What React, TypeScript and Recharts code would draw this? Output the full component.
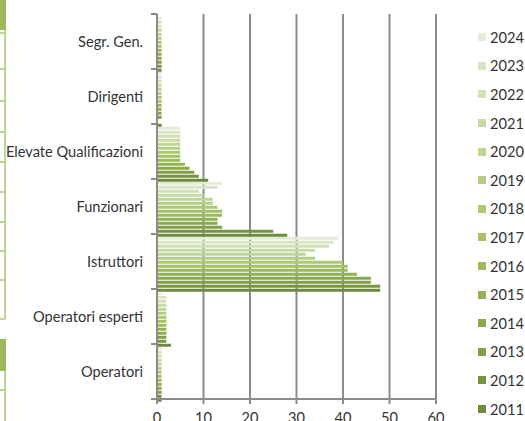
import { BarChart, Bar, XAxis, YAxis, CartesianGrid } from "recharts";

const categories = [
  "Segr. Gen.",
  "Dirigenti",
  "Elevate Qualificazioni",
  "Funzionari",
  "Istruttori",
  "Operatori esperti",
  "Operatori",
];

const years = [2011, 2012, 2013, 2014, 2015, 2016, 2017, 2018, 2019, 2020, 2021, 2022, 2023, 2024];

// values per category, ordered 2011 -> 2024
const segrGen = [1, 1, 1, 1, 1, 1, 1, 1, 1, 1, 1, 1, 1, 1];
const dirigenti = [1, 0, 1, 1, 1, 1, 1, 1, 1, 1, 1, 1, 1, 1];
const elevateQual = [11, 9, 8, 7, 6, 5, 5, 5, 5, 5, 5, 5, 5, 5];
const funzionari = [28, 25, 14, 13, 13, 14, 14, 13, 12, 12, 10, 9, 13, 14];
const istruttori = [48, 48, 46, 46, 43, 41, 41, 40, 34, 32, 34, 37, 38, 39];
const operatoriEsperti = [3, 2, 2, 2, 2, 2, 2, 2, 2, 2, 2, 2, 2, 1];
const operatori = [1, 1, 1, 1, 1, 1, 1, 1, 1, 1, 1, 1, 1, 1];

const xTicks = [0, 10, 20, 30, 40, 50, 60];

const colors = [
  "#6e8b3d", "#77953f", "#80a044", "#89aa4b", "#92b352", "#9bbb59", "#a4c265",
  "#adc872", "#b6ce84", "#bfd595", "#c8dba6", "#d1e0b6", "#d9e6c5", "#e2ecd6",
];

const series = [segrGen, dirigenti, elevateQual, funzionari, istruttori, operatoriEsperti, operatori];

const data = categories.map((name, i) => {
  const row: Record<string, any> = { name };
  years.forEach((y, j) => {
    row["y" + y] = series[i][j];
  });
  return row;
});

const W = 525;
const H = 421;
const AXIS_X = 157;
const TOP = 14;
const BOTTOM_AXIS = 22;
const BAND = (H - TOP - BOTTOM_AXIS) / categories.length;
const GRID = "#8c8c8c";
const TEXT = "#333333";
const FONT = "Lato, 'Open Sans', sans-serif";

function CategoryTick(props: any) {
  const { y, payload, index } = props;
  const half = BAND / 2;
  return (
    <g>
      <text
        x={AXIS_X - 14}
        y={y}
        textAnchor="end"
        dominantBaseline="central"
        fill={TEXT}
        fontSize={14.6}
        fontFamily={FONT}
      >
        {payload.value}
      </text>
      <line x1={AXIS_X - 6} x2={AXIS_X} y1={y - half} y2={y - half} stroke={GRID} strokeWidth={2} />
      {index === categories.length - 1 && (
        <line x1={AXIS_X - 6} x2={AXIS_X} y1={y + half} y2={y + half} stroke={GRID} strokeWidth={2} />
      )}
    </g>
  );
}

function YearLegend() {
  const items = [...years].reverse();
  return (
    <div
      style={{
        position: "absolute",
        left: 478,
        top: 23,
        width: 47,
        fontFamily: FONT,
        fontSize: 14.6,
        color: TEXT,
      }}
    >
      {items.map((y) => {
        const idx = years.indexOf(y);
        return (
          <div key={y} style={{ height: 28.6, display: "flex", alignItems: "center" }}>
            <span
              style={{
                display: "inline-block",
                flex: "none",
                width: 8,
                height: 8,
                background: colors[idx],
                marginRight: 4,
              }}
            />
            <span>{y}</span>
          </div>
        );
      })}
    </div>
  );
}

function LeftEdge() {
  const ticks = [33, 69, 101, 132, 162, 192, 222, 251, 280];
  return (
    <svg width={8} height={H} style={{ position: "absolute", left: 0, top: 0 }}>
      <rect x={0} y={0} width={6} height={30} fill="#9bbb59" />
      <line x1={5} x2={5} y1={30} y2={319} stroke="#a9c97a" strokeWidth={1.5} />
      {ticks.map((t) => (
        <line key={t} x1={0} x2={5} y1={t} y2={t} stroke="#a9c97a" strokeWidth={1.5} />
      ))}
      <line x1={0} x2={5} y1={319} y2={319} stroke="#a9c97a" strokeWidth={1.5} />
      <rect x={0} y={339} width={6} height={32} fill="#9bbb59" />
      <line x1={5} x2={5} y1={371} y2={421} stroke="#a9c97a" strokeWidth={1.5} />
      <line x1={0} x2={5} y1={390} y2={390} stroke="#a9c97a" strokeWidth={1.5} />
    </svg>
  );
}

export default function App() {
  return (
    <div style={{ position: "absolute", left: 0, top: 0, width: W, height: H, background: "#fff", overflow: "hidden" }}>
      <LeftEdge />
      <YearLegend />
      <BarChart
        width={W}
        height={H}
        data={data}
        layout="vertical"
        margin={{ top: TOP, right: 89, bottom: 0, left: 0 }}
        barCategoryGap="5%"
        barGap={1}
      >
        <CartesianGrid vertical horizontal={false} stroke={GRID} strokeWidth={2} />
        <XAxis
          type="number"
          domain={[0, 60]}
          ticks={xTicks}
          height={BOTTOM_AXIS}
          axisLine={{ stroke: GRID, strokeWidth: 2 }}
          tickLine={{ stroke: GRID, strokeWidth: 2 }}
          tickSize={5}
          tickMargin={9}
          tick={{ fill: TEXT, fontSize: 14.6, fontFamily: FONT }}
        />
        <YAxis
          type="category"
          dataKey="name"
          width={AXIS_X}
          axisLine={{ stroke: GRID, strokeWidth: 2 }}
          tickLine={false}
          tick={<CategoryTick />}
          interval={0}
        />
        {[...years].reverse().map((y) => (
          <Bar
            key={y}
            dataKey={"y" + y}
            name={String(y)}
            fill={colors[years.indexOf(y)]}
            isAnimationActive={false}
          />
        ))}
      </BarChart>
    </div>
  );
}
